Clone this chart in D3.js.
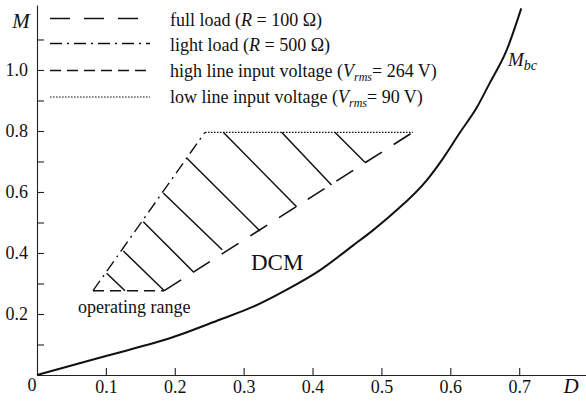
<!DOCTYPE html>
<html>
<head>
<meta charset="utf-8">
<script src="https://cdn.jsdelivr.net/npm/d3@7"></script>
<style>
  body { margin: 0; background: #fff; }
  svg { display: block; }
  text { font-family: "Liberation Serif", "Times New Roman", serif; fill: #111; }
</style>
</head>
<body>
<svg id="chart" width="586" height="402"></svg>
<script>
// Axis ticks
const xTicks = [0.1, 0.2, 0.3, 0.4, 0.5, 0.6, 0.7];
const yTicks = [0.2, 0.4, 0.6, 0.8, 1.0];
const yMinorTicks = [0.1, 0.3, 0.5, 0.7, 0.9, 1.1];

// Boundary curve M_bc(D)
const bcD = [0, 0.1, 0.2, 0.266, 0.314, 0.362, 0.411, 0.459, 0.488, 0.517, 0.566, 0.590, 0.614, 0.638, 0.657, 0.682, 0.703];
const bcM = [0, 0.062, 0.126, 0.182, 0.224, 0.279, 0.344, 0.425, 0.475, 0.530, 0.639, 0.712, 0.795, 0.875, 0.956, 1.066, 1.202];

// Operating range edges: [D, M] end points
const fullLoad  = [[0.1848, 0.2764], [0.5457, 0.7957]];
const lightLoad = [[0.0813, 0.2764], [0.2438, 0.7957]];
const highLine  = [[0.0813, 0.2764], [0.1848, 0.2764]];
const lowLine   = [[0.2438, 0.7957], [0.5457, 0.7957]];

// Hatching inside the operating range: [D0, M0, D1, M1]
const hatch = [
  [0.1012, 0.3334, 0.1277, 0.2764],
  [0.1253, 0.4066, 0.1848, 0.2764],
  [0.1543, 0.5026, 0.2268, 0.3387],
  [0.1833, 0.5967, 0.2688, 0.4105],
  [0.2173, 0.7115, 0.3237, 0.4721],
  [0.2704, 0.7957, 0.3769, 0.5518],
  [0.3551, 0.7957, 0.4276, 0.6230],
  [0.4325, 0.7957, 0.4760, 0.6977]
];

// Legend entries
const legendKeys = ["full", "light", "high", "low"];
const legendDash = { full: "20,14", light: "12,5,2,5", high: "11,6", low: "1.6,1.4" };
const legendWidth = { full: 1.6, light: 1.4, high: 1.6, low: 1.2 };

const SERIF = '"Liberation Serif", "Times New Roman", serif';
const svg = d3.select("#chart");
const x = d3.scaleLinear().domain([0, 0.797]).range([37, 586]);
const y = d3.scaleLinear().domain([0, 1.213]).range([375, 5]);

// Axes
const gx = svg.append("g").attr("transform", `translate(0,${y(0)})`).style("color", "#222")
  .call(d3.axisBottom(x).tickValues(xTicks).tickSizeInner(-7).tickSizeOuter(0).tickPadding(5)
        .tickFormat(d3.format(".1f")));
gx.attr("font-family", SERIF).attr("font-size", 18);
gx.selectAll("text").style("font-family", SERIF).style("font-size", "18px").attr("fill", "#111");

const gy = svg.append("g").attr("transform", `translate(${x(0)},0)`).style("color", "#222")
  .call(d3.axisLeft(y).tickValues(yTicks).tickSizeInner(-7).tickSizeOuter(0).tickPadding(9)
        .tickFormat(d3.format(".1f")));
gy.attr("font-family", SERIF).attr("font-size", 18);
gy.selectAll("text").style("font-family", SERIF).style("font-size", "18px").attr("fill", "#111");

svg.append("g").attr("transform", `translate(${x(0)},0)`).style("color", "#222")
  .call(d3.axisLeft(y).tickValues(yMinorTicks).tickSizeInner(-7).tickSizeOuter(0).tickFormat(""))
  .select(".domain").remove();

svg.selectAll(".domain").attr("stroke-width", 1.1);
svg.selectAll(".tick line").attr("stroke-width", 1.1);

svg.append("text").attr("x", x(0) - 5).attr("y", y(0) + 16).attr("text-anchor", "middle")
  .style("font-size", "18px").text("0");

svg.append("text").attr("x", 21).attr("y", 28).attr("text-anchor", "middle")
  .style("font-size", "21px").style("font-style", "italic").text("M");
svg.append("text").attr("x", 571).attr("y", 393).attr("text-anchor", "middle")
  .style("font-size", "21px").style("font-style", "italic").text("D");

// Boundary curve
const bcData = bcD.map((d, i) => [d, bcM[i]]);
svg.append("path").datum(bcData)
  .attr("fill", "none").attr("stroke", "#111").attr("stroke-width", 2)
  .attr("d", d3.line().x(d => x(d[0])).y(d => y(d[1])).curve(d3.curveMonotoneX));

const mbc = svg.append("text").attr("x", 508).attr("y", 66).style("font-size", "19px").style("font-style", "italic");
mbc.append("tspan").text("M");
mbc.append("tspan").attr("dy", 4).style("font-size", "14px").text("bc");

// Operating range
const seg = d3.line().x(d => x(d[0])).y(d => y(d[1]));
function edge(pts, dash, w) {
  svg.append("path").datum(pts).attr("fill", "none").attr("stroke", "#111")
    .attr("stroke-width", w).attr("stroke-dasharray", dash).attr("d", seg);
}
edge(lowLine, legendDash.low, legendWidth.low);
edge(lightLoad, legendDash.light, legendWidth.light);
edge(highLine, legendDash.high, legendWidth.high);
edge(fullLoad, legendDash.full, legendWidth.full);

svg.append("g").selectAll("line").data(hatch).join("line")
  .attr("x1", d => x(d[0])).attr("y1", d => y(d[1]))
  .attr("x2", d => x(d[2])).attr("y2", d => y(d[3]))
  .attr("stroke", "#111").attr("stroke-width", 1.5);

svg.append("text").attr("x", 251).attr("y", 270).style("font-size", "23px").text("DCM");
svg.append("text").attr("x", 78).attr("y", 313).style("font-size", "18px").text("operating range");

// Legend
const rowY = [18.5, 43.5, 70.5, 97];
const textY = [26, 50.5, 77, 103];
legendKeys.forEach((k, i) => {
  svg.append("line").attr("x1", 50).attr("x2", 150).attr("y1", rowY[i]).attr("y2", rowY[i])
    .attr("stroke", "#111").attr("stroke-width", legendWidth[k]).attr("stroke-dasharray", legendDash[k]);
});

function legendText(i, parts) {
  const t = svg.append("text").attr("x", 170).attr("y", textY[i]).style("font-size", "18px");
  parts.forEach(p => {
    const s = t.append("tspan").text(p.t);
    if (p.i) s.style("font-style", "italic");
    if (p.sub) s.attr("dy", 4).style("font-size", "12px").style("font-style", "italic");
    if (p.up) s.attr("dy", -4);
  });
}
legendText(0, [{ t: "full load (" }, { t: "R", i: true }, { t: " = 100 Ω)" }]);
legendText(1, [{ t: "light load (" }, { t: "R", i: true }, { t: " = 500 Ω)" }]);
legendText(2, [{ t: "high line input voltage (" }, { t: "V", i: true }, { t: "rms", sub: true }, { t: "= 264 V)", up: true }]);
legendText(3, [{ t: "low line input voltage (" }, { t: "V", i: true }, { t: "rms", sub: true }, { t: "= 90 V)", up: true }]);
</script>
</body>
</html>
